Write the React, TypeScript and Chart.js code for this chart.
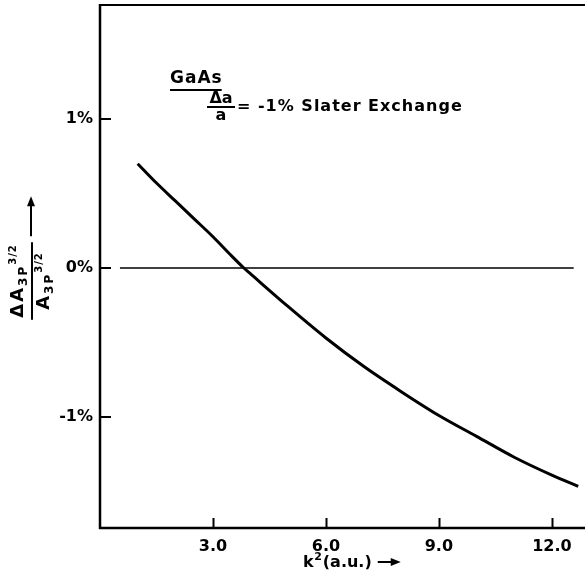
import React, { useEffect, useRef } from "react";
import { Chart, registerables } from "chart.js";

Chart.register(...registerables);

// ---- data ----
const k2Values = [1.0, 1.5, 2.0, 2.5, 3.0, 3.5, 3.82, 4.0, 5.0, 6.0, 7.0, 8.0, 9.0, 10.0, 11.0, 12.0, 12.7];
const deltaValues = [0.70, 0.57, 0.45, 0.33, 0.21, 0.08, 0.0, -0.04, -0.26, -0.47, -0.66, -0.83, -0.99, -1.13, -1.27, -1.39, -1.465];
const zeroLineK2 = [0.53, 12.58];
const zeroLineValues = [0, 0];
const xTickValues = [3, 6, 9, 12];
const xTickLabels = ["3.0", "6.0", "9.0", "12.0"];
const yTickValues = [1, 0, -1];
const yTickLabels = ["1%", "0%", "-1%"];
const titleText = "GaAs";
const equationRest = "= -1% Slater Exchange";

const FONT = "'DejaVu Sans', sans-serif";

const framePlugin = {
  id: "frame",
  afterDatasetsDraw(chart: any) {
    const { ctx, chartArea: a, scales } = chart;
    const xs = scales.x;
    const ys = scales.y;
    ctx.save();
    ctx.strokeStyle = "#000";
    ctx.fillStyle = "#000";
    ctx.lineCap = "butt";
    // frame
    ctx.lineWidth = 2.5;
    ctx.beginPath();
    ctx.moveTo(a.left, a.top - 1);
    ctx.lineTo(a.left, a.bottom + 1);
    ctx.stroke();
    ctx.lineWidth = 2;
    ctx.beginPath();
    ctx.moveTo(a.left - 1, a.top);
    ctx.lineTo(a.right, a.top);
    ctx.stroke();
    ctx.lineWidth = 2.5;
    ctx.beginPath();
    ctx.moveTo(a.left - 1, a.bottom);
    ctx.lineTo(a.right, a.bottom);
    ctx.stroke();
    // inward ticks
    ctx.lineWidth = 2;
    xTickValues.forEach((v) => {
      const px = Math.round(xs.getPixelForValue(v)) + 0.5;
      ctx.beginPath();
      ctx.moveTo(px, a.bottom);
      ctx.lineTo(px, a.bottom - 10);
      ctx.stroke();
    });
    yTickValues.forEach((v) => {
      const py = ys.getPixelForValue(v);
      ctx.beginPath();
      ctx.moveTo(a.left, py);
      ctx.lineTo(a.left + 11, py);
      ctx.stroke();
    });

    // ---- annotation: GaAs ----
    ctx.font = `bold 17px ${FONT}`;
    (ctx as any).letterSpacing = "1px";
    ctx.textBaseline = "alphabetic";
    ctx.textAlign = "left";
    const gx = 170;
    const gy = 83;
    ctx.fillText(titleText, gx, gy);
    const gw = ctx.measureText(titleText).width - 1;
    ctx.lineWidth = 2;
    ctx.beginPath();
    ctx.moveTo(gx, gy + 7);
    ctx.lineTo(gx + gw, gy + 7);
    ctx.stroke();

    // ---- equation: Δa / a = -1% Slater Exchange ----
    const fx = 221;
    const fy = 107;
    ctx.textAlign = "center";
    ctx.font = `bold 16px ${FONT}`;
    (ctx as any).letterSpacing = "0px";
    ctx.fillText("Δa", fx, fy - 4);
    ctx.fillText("a", fx, fy + 13);
    ctx.lineWidth = 2;
    ctx.beginPath();
    ctx.moveTo(fx - 14, fy);
    ctx.lineTo(fx + 14, fy);
    ctx.stroke();
    ctx.textAlign = "left";
    ctx.textBaseline = "middle";
    (ctx as any).letterSpacing = "1px";
    ctx.fillText(equationRest, fx + 16, fy);
    (ctx as any).letterSpacing = "0px";

    // ---- x-axis title: k²(a.u.) → ----
    ctx.textBaseline = "alphabetic";
    let tx = 303;
    const ty = 567;
    ctx.font = `bold 16px ${FONT}`;
    ctx.fillText("k", tx, ty);
    tx += ctx.measureText("k").width;
    ctx.font = `bold 11px ${FONT}`;
    ctx.fillText("2", tx + 0.5, ty - 7);
    tx += ctx.measureText("2").width + 1.5;
    ctx.font = `bold 16px ${FONT}`;
    ctx.fillText("(a.u.)", tx, ty);
    tx += ctx.measureText("(a.u.)").width + 6;
    ctx.lineWidth = 2;
    ctx.beginPath();
    ctx.moveTo(tx, ty - 5);
    ctx.lineTo(tx + 16, ty - 5);
    ctx.stroke();
    ctx.beginPath();
    ctx.moveTo(tx + 23, ty - 5);
    ctx.lineTo(tx + 13, ty - 9);
    ctx.lineTo(tx + 13, ty - 1);
    ctx.closePath();
    ctx.fill();

    // ---- y-axis title (rotated) ----
    const cx = 32;
    const cy = 281;
    ctx.save();
    ctx.translate(cx, cy);
    ctx.rotate(-Math.PI / 2);
    ctx.textAlign = "left";
    const measureTerm = (prefix: string) => {
      ctx.font = `bold 18px ${FONT}`;
      (ctx as any).letterSpacing = "2px";
      const pw = ctx.measureText(prefix).width;
      ctx.font = `bold 12px ${FONT}`;
      (ctx as any).letterSpacing = "2px";
      const sw = ctx.measureText("3P").width;
      ctx.font = `bold 10px ${FONT}`;
      (ctx as any).letterSpacing = "1px";
      const uw = ctx.measureText("3/2").width;
      return { pw, sw, uw, total: pw + sw + uw };
    };
    const drawTerm = (prefix: string, baseY: number, totalLen: number) => {
      const m = measureTerm(prefix);
      let x0 = -totalLen / 2 + (totalLen - m.total) / 2;
      ctx.font = `bold 18px ${FONT}`;
      (ctx as any).letterSpacing = "2px";
      ctx.fillText(prefix, x0, baseY);
      x0 += m.pw;
      ctx.font = `bold 12px ${FONT}`;
      (ctx as any).letterSpacing = "2px";
      ctx.fillText("3P", x0, baseY + 4);
      x0 += m.sw;
      ctx.font = `bold 10px ${FONT}`;
      (ctx as any).letterSpacing = "1px";
      ctx.fillText("3/2", x0, baseY - 7);
      (ctx as any).letterSpacing = "0px";
    };
    const numLen = measureTerm("ΔA").total;
    drawTerm("ΔA", -9, numLen);
    drawTerm("A", 17, numLen);
    ctx.lineWidth = 2;
    ctx.beginPath();
    ctx.moveTo(-numLen / 2 - 2, 0);
    ctx.lineTo(numLen / 2 + 2, 0);
    ctx.stroke();
    // arrow pointing up (in rotated frame: pointing +x)
    const ax = numLen / 2 + 8;
    ctx.beginPath();
    ctx.moveTo(ax, -1);
    ctx.lineTo(ax + 32, -1);
    ctx.stroke();
    ctx.beginPath();
    ctx.moveTo(ax + 40, -1);
    ctx.lineTo(ax + 30, -5);
    ctx.lineTo(ax + 30, 3);
    ctx.closePath();
    ctx.fill();
    ctx.restore();

    ctx.restore();
  },
};

export default function App() {
  const canvasRef = useRef<HTMLCanvasElement | null>(null);

  useEffect(() => {
    const canvas = canvasRef.current;
    if (!canvas) return;
    const chart = new Chart(canvas, {
      type: "line",
      data: {
        datasets: [
          {
            data: k2Values.map((v, i) => ({ x: v, y: deltaValues[i] })),
            borderColor: "#000",
            borderWidth: 3,
            pointRadius: 0,
            cubicInterpolationMode: "monotone",
            fill: false,
          },
          {
            data: zeroLineK2.map((v, i) => ({ x: v, y: zeroLineValues[i] })),
            borderColor: "#000",
            borderWidth: 1.5,
            pointRadius: 0,
            fill: false,
          },
        ],
      },
      options: {
        animation: false,
        responsive: false,
        devicePixelRatio: 1,
        layout: { padding: { left: 0, right: 0, top: 5, bottom: 0 } },
        plugins: {
          legend: { display: false },
          tooltip: { enabled: false },
          title: { display: false },
        },
        scales: {
          x: {
            type: "linear",
            min: 0,
            max: 12.88,
            afterBuildTicks: (scale: any) => {
              scale.ticks = xTickValues.map((v) => ({ value: v }));
            },
            afterFit: (scale: any) => {
              scale.height = 47;
              scale.paddingLeft = 0;
              scale.paddingRight = 0;
            },
            grid: { display: true, drawOnChartArea: false, drawTicks: false },
            border: { display: false },
            ticks: {
              padding: 9,
              color: "#000",
              font: { family: FONT, size: 16, weight: "bold" },
              maxRotation: 0,
              callback: (value: any) => {
                const i = xTickValues.indexOf(Number(value));
                return i >= 0 ? xTickLabels[i] : "";
              },
            },
          },
          y: {
            type: "linear",
            min: -1.745,
            max: 1.765,
            afterBuildTicks: (scale: any) => {
              scale.ticks = yTickValues.map((v) => ({ value: v }));
            },
            afterFit: (scale: any) => {
              scale.width = 100;
              scale.paddingTop = 0;
              scale.paddingBottom = 0;
            },
            grid: { display: true, drawOnChartArea: false, drawTicks: false },
            border: { display: false },
            ticks: {
              padding: 7,
              color: "#000",
              font: { family: FONT, size: 16, weight: "bold" },
              callback: (value: any) => {
                const i = yTickValues.indexOf(Number(value));
                return i >= 0 ? yTickLabels[i] : "";
              },
            },
          },
        },
      },
      plugins: [framePlugin],
    } as any);
    return () => chart.destroy();
  }, []);

  return (
    <div style={{ position: "fixed", left: 0, top: 0, width: 585, height: 575, background: "#fff" }}>
      <canvas ref={canvasRef} width={585} height={575} style={{ display: "block" }} />
    </div>
  );
}
